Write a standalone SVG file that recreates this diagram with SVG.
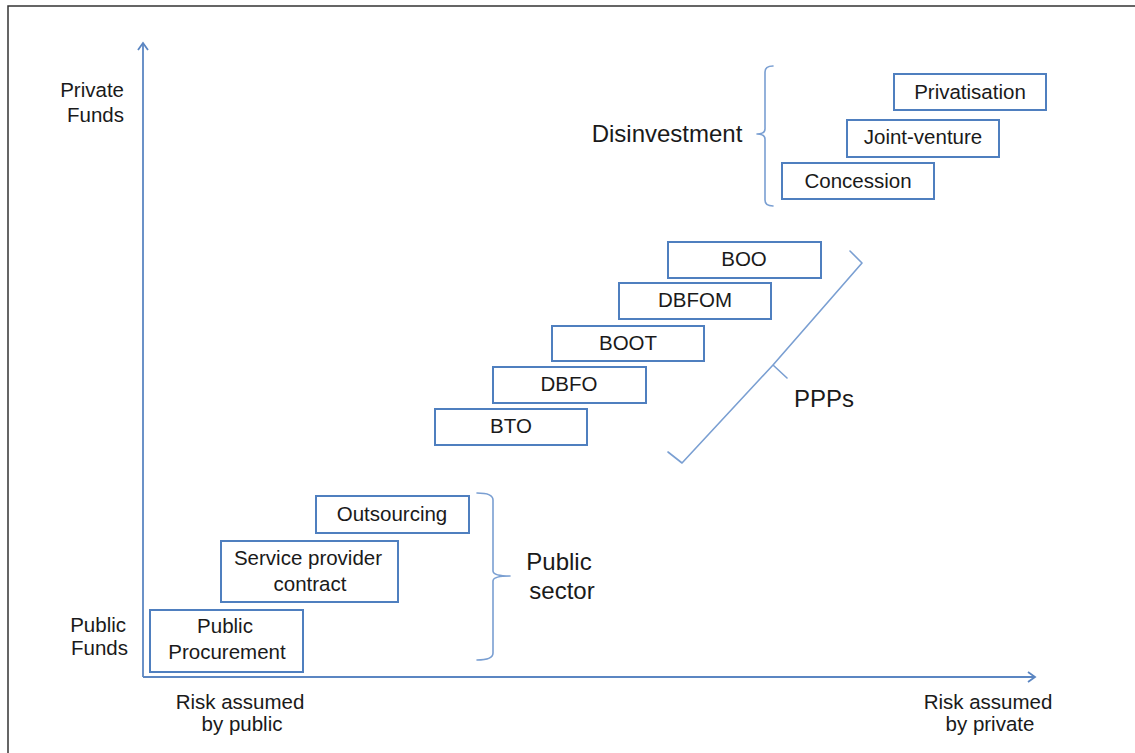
<svg xmlns="http://www.w3.org/2000/svg" width="1135" height="753" viewBox="0 0 1135 753">
  <style>
    .frame { fill: none; stroke: #333333; stroke-width: 1.5; }
    .axis { fill: none; stroke: #5b86c2; stroke-width: 1.8; }
    .box { fill: #ffffff; stroke: #4f7fbf; stroke-width: 2; }
    .brace { fill: none; stroke: #7a9fd2; stroke-width: 1.6; stroke-linejoin: round; stroke-linecap: round; }
    text { font-family: "Liberation Sans", Arial, sans-serif; fill: #1a1a1a; }
    .t { font-size: 20.5px; text-anchor: middle; }
    .lbl { font-size: 24px; text-anchor: middle; }
    .ax { font-size: 20.5px; }
  </style>
  <defs>
    <marker id="chev" viewBox="0 0 12 12" refX="10" refY="6" markerWidth="12" markerHeight="12" markerUnits="userSpaceOnUse" orient="auto">
      <path d="M3,1 L10,6 L3,11" fill="none" stroke="#5b86c2" stroke-width="1.8"/>
    </marker>
  </defs>
  <rect width="1135" height="753" fill="#ffffff"/>
  <!-- outer frame, right and bottom edges run past the page -->
  <rect class="frame" x="8" y="6" width="1140" height="760"/>

  <!-- axes and braces -->
  <g id="connectors">
    <path class="axis" d="M143,677 L143,43" marker-end="url(#chev)"/>
    <path class="axis" d="M143,677 L1035,677" marker-end="url(#chev)"/>
    <!-- disinvestment brace -->
    <path class="brace" d="M773,66 Q765,66 765,72 L765,129 Q765,134 757,134 Q765,134 765,139 L765,200 Q765,206 773,206"/>
    <!-- PPP brace (rotated) -->
    <path class="brace" d="M668,452 L682,463 L773,365 L787,378 M773,365 L862,263 L850,251"/>
    <!-- public sector brace -->
    <path class="brace" d="M477,493 Q493,493 493,500 L493,571 Q493,576 510,576 Q493,576 493,581 L493,653 Q493,660 477,660"/>
  </g>

  <!-- axis labels -->
  <g id="label-private-funds">
    <text class="ax" x="124" y="97" text-anchor="end">Private</text>
    <text class="ax" x="124" y="122" text-anchor="end">Funds</text>
  </g>
  <g id="label-public-funds">
    <text class="ax" x="126" y="632" text-anchor="end">Public</text>
    <text class="ax" x="128" y="655" text-anchor="end">Funds</text>
  </g>
  <g id="label-risk-public">
    <text class="ax" x="240" y="709" text-anchor="middle">Risk assumed</text>
    <text class="ax" x="242" y="731" text-anchor="middle">by public</text>
  </g>
  <g id="label-risk-private">
    <text class="ax" x="988" y="709" text-anchor="middle">Risk assumed</text>
    <text class="ax" x="990" y="731" text-anchor="middle">by private</text>
  </g>

  <!-- public sector group -->
  <g id="node-public-procurement">
    <rect class="box" x="150" y="610" width="153" height="62"/>
    <text class="t" x="225" y="633">Public</text>
    <text class="t" x="227" y="659">Procurement</text>
  </g>
  <g id="node-service-provider">
    <rect class="box" x="221" y="541" width="177" height="61"/>
    <text class="t" x="308" y="565">Service provider</text>
    <text class="t" x="310" y="591">contract</text>
  </g>
  <g id="node-outsourcing">
    <rect class="box" x="316" y="496" width="153" height="37"/>
    <text class="t" x="392" y="521">Outsourcing</text>
  </g>
  <g id="label-public-sector">
    <text class="lbl" x="559" y="570">Public</text>
    <text class="lbl" x="562" y="599">sector</text>
  </g>

  <!-- PPP group -->
  <g id="node-bto">
    <rect class="box" x="435" y="409" width="152" height="36"/>
    <text class="t" x="511" y="433">BTO</text>
  </g>
  <g id="node-dbfo">
    <rect class="box" x="493" y="367" width="153" height="36"/>
    <text class="t" x="569" y="391">DBFO</text>
  </g>
  <g id="node-boot">
    <rect class="box" x="552" y="326" width="152" height="35"/>
    <text class="t" x="628" y="350">BOOT</text>
  </g>
  <g id="node-dbfom">
    <rect class="box" x="619" y="283" width="152" height="36"/>
    <text class="t" x="695" y="307">DBFOM</text>
  </g>
  <g id="node-boo">
    <rect class="box" x="668" y="242" width="153" height="36"/>
    <text class="t" x="744" y="266">BOO</text>
  </g>
  <g id="label-ppps">
    <text class="lbl" x="824" y="407">PPPs</text>
  </g>

  <!-- disinvestment group -->
  <g id="node-concession">
    <rect class="box" x="782" y="163" width="152" height="36"/>
    <text class="t" x="858" y="188">Concession</text>
  </g>
  <g id="node-joint-venture">
    <rect class="box" x="847" y="120" width="152" height="37"/>
    <text class="t" x="923" y="144">Joint-venture</text>
  </g>
  <g id="node-privatisation">
    <rect class="box" x="894" y="74" width="152" height="36"/>
    <text class="t" x="970" y="99">Privatisation</text>
  </g>
  <g id="label-disinvestment">
    <text class="lbl" x="667" y="142">Disinvestment</text>
  </g>
</svg>
